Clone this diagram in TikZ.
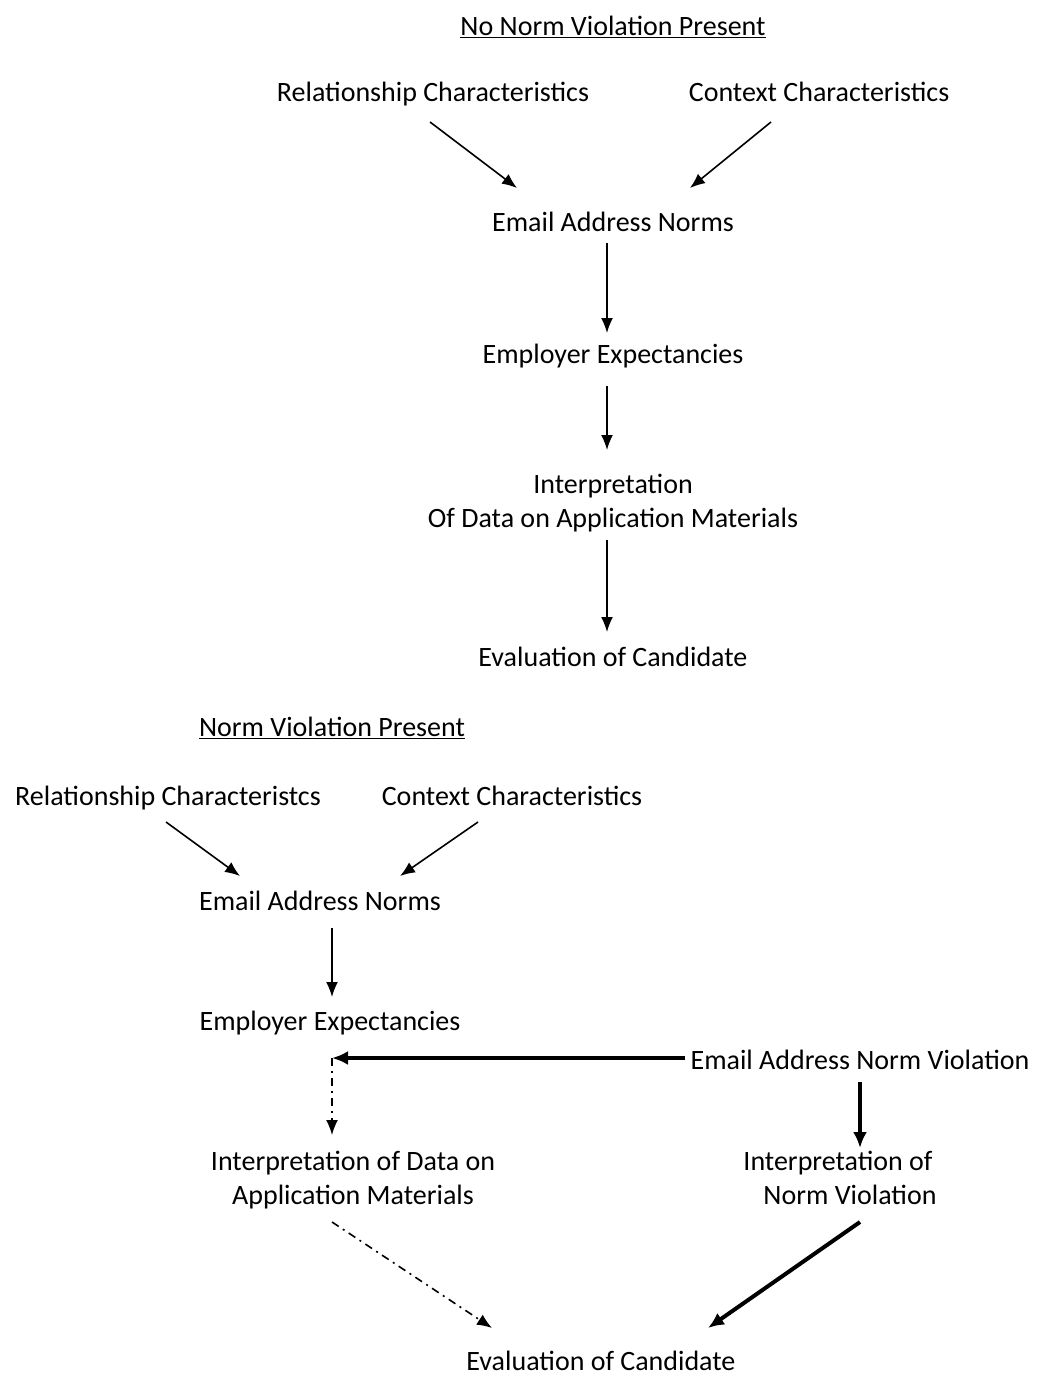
\documentclass[tikz,border=0pt]{standalone}
\usepackage{fontspec}
\setmainfont{Carlito}
\usetikzlibrary{arrows.meta}
\begin{document}
\begin{tikzpicture}[x=1pt,y=-1pt,
  lbl/.style={font=\fontsize{28}{34}\selectfont, inner sep=0pt, align=center},
  one/.style={lbl, text height=19pt, text depth=6pt},
  arr/.style={line width=1.6pt, -{Latex[length=15pt,width=12pt]}},
  tarr/.style={line width=4pt, -{Latex[length=16pt,width=14pt]}},
  ddarr/.style={line width=1.6pt, dash pattern=on 8pt off 5pt on 2pt off 5pt, -{Latex[length=15pt,width=12pt]}}]
\useasboundingbox (0,0) rectangle (1036,1378);

% top section
\node[one] (t1) at (613,29) {\underline{No Norm Violation Present}};
\node[one] (rc1) at (433,95) {Relationship Characteristics};
\node[one] (cc1) at (819,95) {Context Characteristics};
\node[one] (ean1) at (613,225) {Email Address Norms};
\node[one] (ee1) at (613,357) {Employer Expectancies};
\node[lbl] (int1) at (613,503) {Interpretation\\Of Data on Application Materials};
\node[one] (ev1) at (613,660) {Evaluation of Candidate};

\coordinate (a1s) at (430,122); \coordinate (a1e) at (517,188);
\coordinate (a2s) at (771,122); \coordinate (a2e) at (690,188);
\draw[arr] (a1s) -- (a1e);
\draw[arr] (a2s) -- (a2e);
\coordinate (v1s) at (607,243); \coordinate (v1e) at (607,333);
\coordinate (v2s) at (607,386); \coordinate (v2e) at (607,450);
\coordinate (v3s) at (607,540); \coordinate (v3e) at (607,632);
\draw[arr] (v1s) -- (v1e);
\draw[arr] (v2s) -- (v2e);
\draw[arr] (v3s) -- (v3e);

% bottom section
\node[one] (t2) at (332,730) {\underline{Norm Violation Present}};
\node[one] (rc2) at (168,799) {Relationship Characteristcs};
\node[one] (cc2) at (512,799) {Context Characteristics};
\node[one] (ean2) at (320,904) {Email Address Norms};
\node[one] (ee2) at (330,1024) {Employer Expectancies};
\node[one] (env) at (860,1063) {Email Address Norm Violation};
\node[lbl] (idm) at (353,1180) {Interpretation of Data on\\Application Materials};
\node[lbl] (inv) at (838,1178) {Interpretation of\\\hspace*{24pt}Norm Violation};
\node[lbl, text height=19pt, text depth=0pt] (ev2) at (601,1361) {Evaluation of Candidate};

\coordinate (b1s) at (166,822); \coordinate (b1e) at (240,876);
\coordinate (b2s) at (478,822); \coordinate (b2e) at (400,876);
\draw[arr] (b1s) -- (b1e);
\draw[arr] (b2s) -- (b2e);
\coordinate (b3s) at (332,928); \coordinate (b3e) at (332,997);
\draw[arr] (b3s) -- (b3e);

\coordinate (j) at (332,1058);
\coordinate (envw) at (685,1058);
\draw[tarr] (envw) -- (j);
\coordinate (jd) at (332,1135);
\draw[ddarr] (j) -- (jd);

\coordinate (c1s) at (860,1082); \coordinate (c1e) at (860,1148);
\draw[tarr] (c1s) -- (c1e);

\coordinate (d1s) at (332,1222); \coordinate (d1e) at (492,1328);
\draw[ddarr] (d1s) -- (d1e);
\coordinate (d2s) at (860,1222); \coordinate (d2e) at (708,1328);
\draw[tarr] (d2s) -- (d2e);
\end{tikzpicture}
\end{document}
